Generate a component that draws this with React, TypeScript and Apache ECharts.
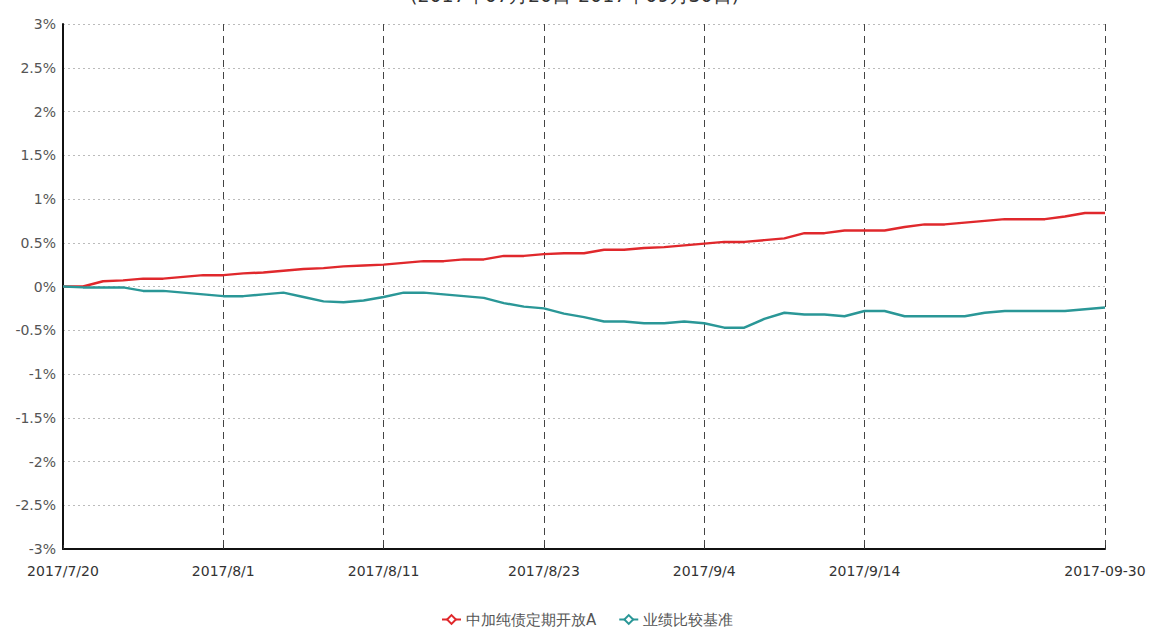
import React, { useEffect, useRef } from "react";
import * as echarts from "echarts";

const titleText = "(2017年07月20日-2017年09月30日)";
const seriesNames = ["中加纯债定期开放A", "业绩比较基准"];

const categories = [
  "2017/7/20", "2017/7/21", "2017/7/24", "2017/7/25", "2017/7/26", "2017/7/27", "2017/7/28", "2017/7/31",
  "2017/8/1", "2017/8/2", "2017/8/3", "2017/8/4", "2017/8/7", "2017/8/8", "2017/8/9", "2017/8/10",
  "2017/8/11", "2017/8/14", "2017/8/15", "2017/8/16", "2017/8/17", "2017/8/18", "2017/8/21", "2017/8/22",
  "2017/8/23", "2017/8/24", "2017/8/25", "2017/8/28", "2017/8/29", "2017/8/30", "2017/8/31", "2017/9/1",
  "2017/9/4", "2017/9/5", "2017/9/6", "2017/9/7", "2017/9/8", "2017/9/11", "2017/9/12", "2017/9/13",
  "2017/9/14", "2017/9/15", "2017/9/18", "2017/9/19", "2017/9/20", "2017/9/21", "2017/9/22", "2017/9/25",
  "2017/9/26", "2017/9/27", "2017/9/28", "2017/9/29", "2017-09-30",
];

const fundValues = [
  0.0, 0.0, 0.06, 0.07, 0.09, 0.09, 0.11, 0.13,
  0.13, 0.15, 0.16, 0.18, 0.2, 0.21, 0.23, 0.24,
  0.25, 0.27, 0.29, 0.29, 0.31, 0.31, 0.35, 0.35,
  0.37, 0.38, 0.38, 0.42, 0.42, 0.44, 0.45, 0.47,
  0.49, 0.51, 0.51, 0.53, 0.55, 0.61, 0.61, 0.64,
  0.64, 0.64, 0.68, 0.71, 0.71, 0.73, 0.75, 0.77,
  0.77, 0.77, 0.8, 0.84, 0.84,
];

const benchmarkValues = [
  0.0, -0.01, -0.01, -0.01, -0.05, -0.05, -0.07, -0.09,
  -0.11, -0.11, -0.09, -0.07, -0.12, -0.17, -0.18, -0.16,
  -0.12, -0.07, -0.07, -0.09, -0.11, -0.13, -0.19, -0.23,
  -0.25, -0.31, -0.35, -0.4, -0.4, -0.42, -0.42, -0.4,
  -0.42, -0.47, -0.47, -0.37, -0.3, -0.32, -0.32, -0.34,
  -0.28, -0.28, -0.34, -0.34, -0.34, -0.34, -0.3, -0.28,
  -0.28, -0.28, -0.28, -0.26, -0.24,
];

const labelIndices = [0, 8, 16, 24, 32, 40, 52];

const yMin = -3;
const yMax = 3;
const yStep = 0.5;

export default function App() {
  const ref = useRef<HTMLDivElement>(null);

  useEffect(() => {
    if (!ref.current) return;
    const chart = echarts.init(ref.current, undefined, { renderer: "svg" });
    const showIdx = (i: number) => labelIndices.indexOf(i) >= 0;
    chart.setOption({
      animation: false,
      backgroundColor: "#ffffff",
      title: {
        text: titleText,
        left: 405,
        top: -20,
        textStyle: { fontSize: 19, fontWeight: "normal", color: "#333", fontFamily: "DejaVu Sans" },
      },
      legend: {
        bottom: -1,
        left: 436,
        itemWidth: 19,
        itemHeight: 11,
        itemGap: 22,
        textStyle: { fontSize: 15, color: "#555", fontFamily: "DejaVu Sans" },
        data: seriesNames,
      },
      grid: { left: 63, right: 45, top: 24, bottom: 82, containLabel: false },
      xAxis: {
        type: "category",
        boundaryGap: false,
        data: categories,
        axisLine: { show: true, onZero: false, lineStyle: { color: "#111", width: 2 } },
        axisTick: { show: true, inside: true, length: 4, interval: (i: number) => showIdx(i), lineStyle: { color: "#333" } },
        axisLabel: {
          interval: (i: number) => showIdx(i),
          color: "#333",
          fontSize: 14,
          fontFamily: "DejaVu Sans",
          margin: 15,
          showMaxLabel: true,
        },
        splitLine: {
          show: true,
          interval: (i: number) => showIdx(i) && i !== 0,
          lineStyle: { color: "#444", type: [7, 5], width: 1 },
        },
      },
      yAxis: {
        type: "value",
        min: yMin,
        max: yMax,
        interval: yStep,
        axisLine: { show: true, onZero: false, lineStyle: { color: "#111", width: 2 } },
        axisTick: { show: false },
        axisLabel: {
          formatter: (v: number) => v + "%",
          color: "#555",
          fontSize: 14,
          fontFamily: "DejaVu Sans",
          margin: 7,
        },
        splitLine: { show: true, lineStyle: { color: "#bbb", type: [2, 3], width: 1 } },
      },
      series: [
        {
          name: seriesNames[0],
          type: "line",
          data: fundValues,
          symbol: "emptyDiamond",
          symbolSize: 10,
          showSymbol: false,
          lineStyle: { color: "#e0282c", width: 2.5 },
          itemStyle: { color: "#e0282c" },
        },
        {
          name: seriesNames[1],
          type: "line",
          data: benchmarkValues,
          symbol: "emptyDiamond",
          symbolSize: 10,
          showSymbol: false,
          lineStyle: { color: "#2a9797", width: 2.5 },
          itemStyle: { color: "#2a9797" },
        },
      ],
    });
    return () => chart.dispose();
  }, []);

  return (
    <div
      ref={ref}
      style={{ position: "fixed", left: 0, top: 0, width: 1150, height: 631 }}
    />
  );
}
